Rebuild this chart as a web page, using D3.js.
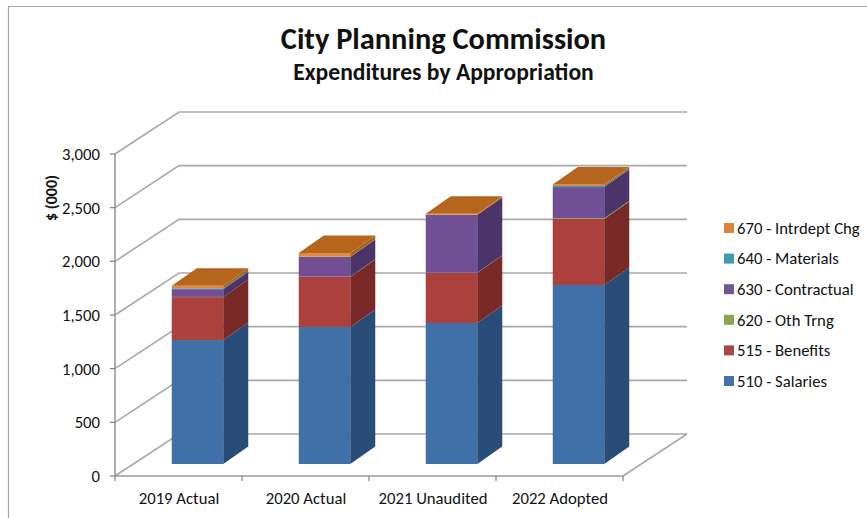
<!DOCTYPE html>
<html><head><meta charset="utf-8">
<script src="https://cdn.jsdelivr.net/npm/d3@7"></script>
<style>html,body{margin:0;padding:0;background:#fff}svg{display:block}text{font-family:Carlito,Calibri,"Open Sans","Noto Sans",sans-serif;fill:#111}</style>
</head><body><svg id="c" width="867" height="518"></svg>
<script>
const categories = ["2019 Actual","2020 Actual","2021 Unaudited","2022 Adopted"];
const seriesNames = ["510 - Salaries","515 - Benefits","620 - Oth Trng","630 - Contractual","640 - Materials","670 - Intrdept Chg"];
const salaries    = [1155,1277,1314,1668];
const benefits    = [ 400, 466, 466, 615];
const othTrng     = [   2,   2,   2,   7];
const contractual = [  72, 184, 538, 290];
const materials   = [   8,   2,   2,  10];
const intrdeptChg = [  23,  35,  10,  15];
const yTicks = [0,500,1000,1500,2000,2500,3000];
const faceColors = ["#3f70a8","#ab3f3c","#8aa64a","#6f4f94","#3a9ab0","#e08a3c"];
const sideColors = ["#2a4d78","#7a2b28","#5f7532","#4c3668","#286c7c","#a8641f"];
const legendColors = ["#4672a8","#aa4643","#89a54e","#71588f","#4198af","#db843d"];

const table = [salaries,benefits,othTrng,contractual,materials,intrdeptChg];
const svg = d3.select("#c");
const DX = 64, DY = 42, BAR_DX = 25, BAR_DY = 17.5;
const y = d3.scaleLinear().domain([0,3000]).range([476,154]);
const x = d3.scaleBand().domain(categories).range([115,623]).paddingInner(0).paddingOuter(0);
const barW = 51.5;

// chart frame
svg.append("path").attr("d","M8.5,518V6.5H867").attr("fill","none").attr("stroke","#a6a6a6").attr("stroke-width",1.2);

const blur = svg.append("defs").append("filter").attr("id","soft").attr("x","-5%").attr("y","-5%").attr("width","110%").attr("height","110%");
blur.append("feGaussianBlur").attr("stdDeviation",0.6);

const g = svg.append("g").attr("filter","url(#soft)");
const grid = "#a9a9a9";
// gridlines: side wall + back wall
yTicks.forEach(t=>{
  g.append("path").attr("d",`M${x.range()[0]},${y(t)}L${x.range()[0]+DX},${y(t)-DY}H${x.range()[1]+DX}`)
   .attr("fill","none").attr("stroke",grid).attr("stroke-width",1.6);
});
// floor right edge & axis
g.append("path").attr("d",`M${x.range()[1]},${y(0)}L${x.range()[1]+DX},${y(0)-DY}`).attr("fill","none").attr("stroke",grid).attr("stroke-width",1.6);
g.append("path").attr("d",`M${x.range()[0]},${y(3000)}V${y(0)}H${x.range()[1]}`).attr("fill","none").attr("stroke","#9a9a9a").attr("stroke-width",1.6);
yTicks.forEach(t=>g.append("line").attr("x1",x.range()[0]-5).attr("x2",x.range()[0]).attr("y1",y(t)).attr("y2",y(t)).attr("stroke","#8a8a8a").attr("stroke-width",1.3));
[...categories.map(c=>x(c)),x.range()[1]].forEach(p=>g.append("line").attr("x1",p).attr("x2",p).attr("y1",y(0)).attr("y2",y(0)+5).attr("stroke","#8a8a8a").attr("stroke-width",1.3));

// bars: front plane sits 12px above the axis floor and 19px into the depth
const base = 12, inset = 19;
categories.forEach((c,i)=>{
  const x0 = x(c)+(x.bandwidth()-barW)/2 + inset, x1 = x0+barW;
  let acc = 0;
  table.forEach((s,k)=>{
    const a = acc, b = acc + s[i]; acc = b;
    const ya = y(a)-base, yb = y(b)-base;
    g.append("rect").attr("x",x0).attr("y",yb).attr("width",barW).attr("height",ya-yb).attr("fill",faceColors[k]);
    g.append("path").attr("d",`M${x1},${ya}L${x1+BAR_DX},${ya-BAR_DY}V${yb-BAR_DY}L${x1},${yb}Z`).attr("fill",sideColors[k]);
  });
  const yt = y(acc)-base;
  g.append("path").attr("d",`M${x0},${yt}L${x0+BAR_DX},${yt-BAR_DY}H${x1+BAR_DX}L${x1},${yt}Z`).attr("fill","#b5651f");
});

// axis labels
yTicks.forEach(t=>svg.append("text").attr("x",100).attr("y",y(t)).attr("dy","0.35em").attr("text-anchor","end").attr("font-size",16.7).text(d3.format(",")(t)));
categories.forEach(c=>svg.append("text").attr("x",x(c)+x.bandwidth()/2+0.5).attr("y",498).attr("dy","0.35em").attr("text-anchor","middle").attr("font-size",16.7).text(c));
svg.append("text").attr("transform","translate(51,198) rotate(-90)").attr("text-anchor","middle").attr("dy","0.35em").attr("font-size",16).attr("font-weight",700).text("$ (000)");

// titles
svg.append("text").attr("x",443.5).attr("y",38).attr("dy","0.35em").attr("text-anchor","middle").attr("font-size",30.4).attr("font-weight",700).text("City Planning Commission");
svg.append("text").attr("x",443.5).attr("y",72).attr("dy","0.35em").attr("text-anchor","middle").attr("font-size",23.6).attr("font-weight",700).text("Expenditures by Appropriation");

// legend
const ly = d3.scalePoint().domain(d3.range(6)).range([381,228]);
seriesNames.forEach((n,k)=>{
  svg.append("rect").attr("x",724).attr("y",ly(k)-5).attr("width",10).attr("height",10).attr("fill",legendColors[k]);
  svg.append("text").attr("x",737).attr("y",ly(k)).attr("dy","0.35em").attr("font-size",16.7).text(n);
});
</script></body></html>
